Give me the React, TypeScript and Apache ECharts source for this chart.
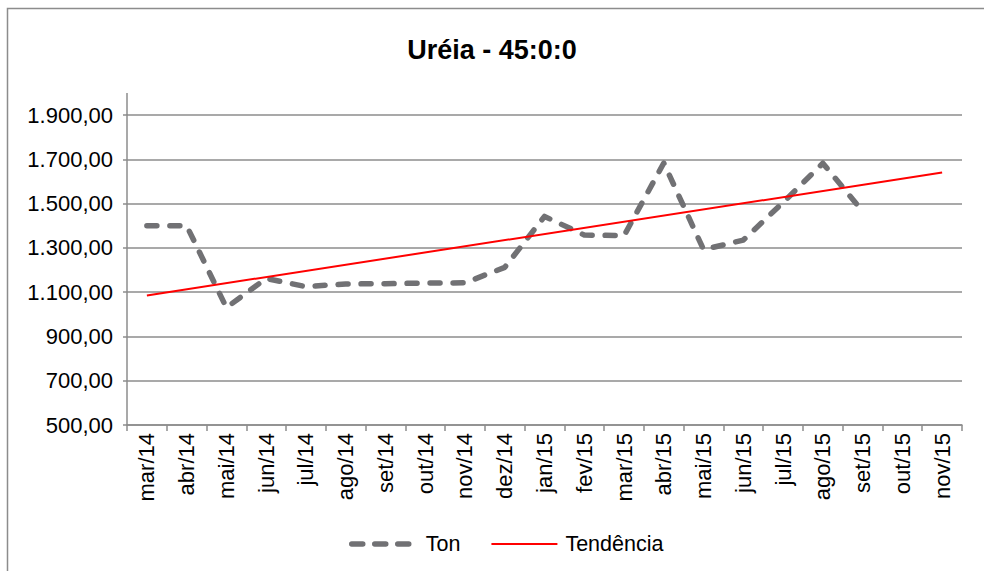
import React, { useEffect, useRef } from "react";
import * as echarts from "echarts";

const categories = [
  "mar/14", "abr/14", "mai/14", "jun/14", "jul/14", "ago/14", "set/14", "out/14", "nov/14", "dez/14",
  "jan/15", "fev/15", "mar/15", "abr/15", "mai/15", "jun/15", "jul/15", "ago/15", "set/15", "out/15", "nov/15",
];
const tonValues: (number | null)[] = [
  1400, 1400, 1030, 1162, 1125, 1137, 1138, 1141, 1142, 1212,
  1442, 1358, 1355, 1683, 1292, 1335, 1505, 1682, 1465, null, null,
];
const trendValues: (number | null)[] = [
  1085, null, null, null, null, null, null, null, null, null,
  null, null, null, null, null, null, null, null, null, null, 1640,
];
const yMin = 500;
const yMax = 1900;
const yInterval = 200;
const title = "Uréia - 45:0:0";
const seriesNames = ["Ton", "Tendência"];

const FONT = "Liberation Sans, Arial, sans-serif";
const GRID = "#8c8c8c";
const TON_COLOR = "#717174";

export default function App() {
  const ref = useRef<HTMLDivElement>(null);
  useEffect(() => {
    if (!ref.current) return;
    const chart = echarts.init(ref.current, undefined, { renderer: "svg" });
    chart.setOption({
      animation: false,
      backgroundColor: "#ffffff",
      textStyle: { fontFamily: FONT },
      title: {
        text: title,
        left: "center",
        top: 31,
        textStyle: { fontFamily: FONT, fontSize: 27, fontWeight: "bold", color: "#000" },
      },
      graphic: [
        {
          type: "rect",
          shape: { x: 7.5, y: 8.5, width: 1100, height: 700 },
          style: { fill: "none", stroke: "#8c8c8c", lineWidth: 1.5 },
          silent: true,
        },
        {
          type: "line",
          shape: { x1: 127, y1: 93, x2: 127, y2: 115 },
          style: { stroke: GRID, lineWidth: 1.5 },
          silent: true,
        },
      ],
      legend: {
        left: 344,
        top: 528,
        itemWidth: 66,
        itemHeight: 14,
        itemGap: 30,
        itemStyle: { opacity: 0, borderWidth: 0 },
        textStyle: { fontFamily: FONT, fontSize: 21.5, color: "#000", padding: [0, 0, 0, 3] },
        data: [
          {
            name: seriesNames[0],
            lineStyle: { color: TON_COLOR, width: 5.5, type: [11, 12], cap: "round" },
          },
          { name: seriesNames[1], lineStyle: { color: "#ff0000", width: 2 } },
        ],
      },
      grid: { left: 127, right: 22, top: 115, bottom: 146 },
      xAxis: {
        type: "category",
        data: categories,
        boundaryGap: true,
        axisLine: { lineStyle: { color: GRID, width: 1.5 } },
        axisTick: { show: true, length: 6, lineStyle: { color: GRID, width: 1.5 } },
        axisLabel: {
          rotate: 90,
          interval: 0,
          margin: 8,
          fontFamily: FONT,
          fontSize: 22,
          color: "#000",
        },
      },
      yAxis: {
        type: "value",
        min: yMin,
        max: yMax,
        interval: yInterval,
        axisLine: { show: true, lineStyle: { color: GRID, width: 1.5 } },
        axisTick: { show: true, length: 4, lineStyle: { color: GRID, width: 1.5 } },
        splitLine: { show: true, lineStyle: { color: GRID, width: 1.5 } },
        axisLabel: {
          margin: 14,
          fontFamily: FONT,
          fontSize: 22,
          color: "#000",
          formatter: (v: number) =>
            v.toLocaleString("pt-BR", { minimumFractionDigits: 2, maximumFractionDigits: 2 }),
        },
      },
      series: [
        {
          name: seriesNames[0],
          type: "line",
          data: tonValues,
          symbol: "none",
          connectNulls: false,
          itemStyle: { color: TON_COLOR },
          lineStyle: { color: TON_COLOR, width: 5.5, type: [10, 13], cap: "round", join: "round" },
          z: 2,
        },
        {
          name: seriesNames[1],
          type: "line",
          data: trendValues,
          symbol: "none",
          connectNulls: true,
          itemStyle: { color: "#ff0000" },
          lineStyle: { color: "#ff0000", width: 2 },
          z: 3,
        },
      ],
    });
    return () => chart.dispose();
  }, []);
  return (
    <div
      ref={ref}
      style={{ position: "fixed", left: 0, top: 0, width: 984, height: 571 }}
    />
  );
}
